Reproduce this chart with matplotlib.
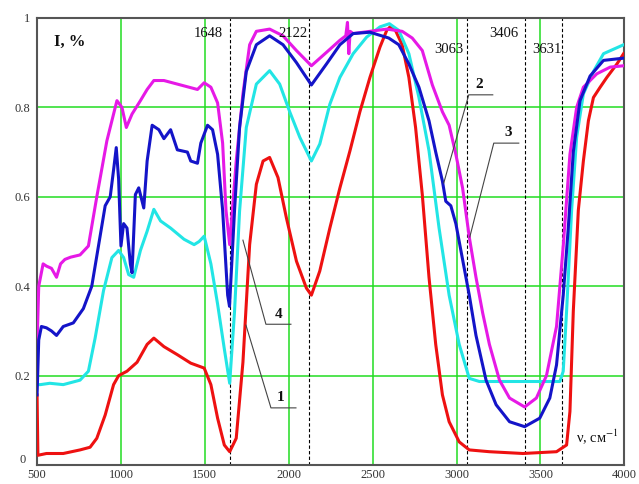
import matplotlib
matplotlib.use("Agg")
import matplotlib.pyplot as plt
from matplotlib.transforms import ScaledTranslation

plt.rcParams['mathtext.fontset'] = 'stix'

# Curve 1 (red)
red_x = [500, 505, 556, 656, 756, 816, 856, 906, 956, 986, 1036, 1096, 1156, 1196, 1256, 1336, 1416, 1496,
         1536, 1576, 1616, 1648, 1687, 1727, 1767, 1807, 1847, 1886, 1936, 1986, 2046, 2105, 2135, 2185,
         2245, 2305, 2365, 2424, 2484, 2544, 2584, 2604, 2636, 2676, 2716, 2756, 2796, 2836, 2876, 2916,
         2956, 3016, 3076, 3196, 3396, 3596, 3656, 3676, 3696, 3726, 3756, 3786, 3816, 3856, 3896, 3956, 3996]
red_y = [0.157, 0.022, 0.026, 0.026, 0.034, 0.04, 0.06, 0.112, 0.18, 0.20, 0.21, 0.23, 0.27, 0.284, 0.265,
         0.247, 0.228, 0.217, 0.18, 0.105, 0.045, 0.03, 0.06, 0.23, 0.493, 0.628, 0.68, 0.688, 0.643, 0.553,
         0.456, 0.396, 0.38, 0.434, 0.53, 0.62, 0.703, 0.79, 0.867, 0.935, 0.972, 0.98, 0.972, 0.94, 0.867,
         0.755, 0.605, 0.42, 0.27, 0.157, 0.097, 0.052, 0.034, 0.03, 0.026, 0.03, 0.045, 0.12, 0.344, 0.57,
         0.68, 0.77, 0.822, 0.845, 0.867, 0.897, 0.92]

# Blue curve
blue_x = [500, 510, 526, 556, 586, 616, 656, 716, 776, 826, 866, 906, 936, 956, 972, 986, 1000, 1016, 1036,
          1056, 1066, 1086, 1106, 1136, 1156, 1186, 1226, 1256, 1296, 1336, 1396, 1416, 1456, 1476, 1516,
          1546, 1576, 1606, 1636, 1647, 1677, 1707, 1747, 1807, 1886, 1966, 2046, 2135, 2225, 2305, 2384,
          2484, 2596, 2656, 2716, 2776, 2836, 2876, 2916, 2936, 2966, 2996, 3036, 3076, 3116, 3176, 3236,
          3316, 3406, 3496, 3556, 3596, 3636, 3666, 3696, 3736, 3796, 3876, 3996]
blue_y = [0.157, 0.28, 0.31, 0.307, 0.30, 0.29, 0.31, 0.318, 0.35, 0.40, 0.49, 0.58, 0.60, 0.66, 0.71, 0.64,
          0.49, 0.54, 0.53, 0.45, 0.43, 0.605, 0.62, 0.575, 0.68, 0.76, 0.75, 0.73, 0.75, 0.705, 0.70, 0.68,
          0.675, 0.72, 0.76, 0.75, 0.695, 0.57, 0.38, 0.355, 0.57, 0.755, 0.88, 0.94, 0.96, 0.94, 0.90, 0.85,
          0.897, 0.94, 0.965, 0.968, 0.955, 0.94, 0.897, 0.845, 0.77, 0.70, 0.635, 0.59, 0.58, 0.54, 0.46,
          0.38, 0.29, 0.19, 0.135, 0.097, 0.086, 0.105, 0.15, 0.224, 0.38, 0.53, 0.70, 0.815, 0.87, 0.905, 0.91]

# Cyan curve
cyan_x = [500, 520, 576, 656, 756, 806, 846, 896, 946, 986, 1016, 1046, 1076, 1116, 1156, 1196, 1236, 1296,
          1376, 1436, 1466, 1496, 1536, 1576, 1616, 1648, 1677, 1707, 1747, 1807, 1886, 1946, 2006, 2066,
          2135, 2185, 2245, 2305, 2384, 2464, 2544, 2600, 2656, 2716, 2776, 2836, 2896, 2956, 3016, 3076,
          3136, 3396, 3616, 3636, 3656, 3686, 3716, 3756, 3816, 3876, 3996]
cyan_y = [0.18, 0.18, 0.183, 0.18, 0.19, 0.21, 0.284, 0.39, 0.464, 0.48, 0.464, 0.426, 0.42, 0.48, 0.523,
          0.572, 0.546, 0.53, 0.505, 0.493, 0.50, 0.512, 0.45, 0.36, 0.26, 0.183, 0.344, 0.568, 0.755, 0.852,
          0.882, 0.852, 0.79, 0.733, 0.68, 0.718, 0.807, 0.867, 0.92, 0.957, 0.98, 0.987, 0.972, 0.92, 0.822,
          0.703, 0.53, 0.38, 0.27, 0.194, 0.187, 0.187, 0.187, 0.21, 0.344, 0.57, 0.733, 0.83, 0.88, 0.92, 0.94]

# Magenta curve
mag_x = [500, 510, 536, 556, 586, 616, 640, 666, 700, 756, 806, 856, 916, 976, 1006, 1032, 1066, 1116, 1156,
         1196, 1256, 1356, 1456, 1496, 1536, 1576, 1606, 1626, 1648, 1687, 1727, 1767, 1807, 1886, 1966,
         2046, 2135, 2225, 2305, 2340, 2350, 2358, 2366, 2384, 2484, 2584, 2676, 2736, 2796, 2856, 2916,
         2956, 2996, 3036, 3076, 3116, 3156, 3196, 3256, 3316, 3406, 3476, 3536, 3596, 3636, 3676, 3716,
         3756, 3836, 3916, 3996]
mag_y = [0.27, 0.40, 0.45, 0.445, 0.44, 0.42, 0.45, 0.46, 0.465, 0.47, 0.49, 0.60, 0.725, 0.815, 0.80, 0.755,
         0.785, 0.815, 0.84, 0.86, 0.86, 0.85, 0.84, 0.855, 0.845, 0.81, 0.72, 0.57, 0.493, 0.68, 0.83, 0.94,
         0.97, 0.975, 0.96, 0.927, 0.893, 0.923, 0.95, 0.96, 0.99, 0.92, 0.97, 0.965, 0.97, 0.975, 0.97,
         0.955, 0.927, 0.85, 0.79, 0.76, 0.695, 0.62, 0.51, 0.42, 0.34, 0.27, 0.19, 0.15, 0.13, 0.15, 0.20,
         0.31, 0.49, 0.695, 0.80, 0.845, 0.875, 0.89, 0.893]

x_ticks = [500, 1000, 1500, 2000, 2500, 3000, 3500, 4000]
y_ticks = [0, 0.2, 0.4, 0.6, 0.8, 1]
y_tick_labels = ["0", "0.2", "0.4", "0.6", "0.8", "1"]
peak_lines = [1648, 2122, 3063, 3406, 3631]
peak_labels = ["1648", "2122", "3063", "3406", "3631"]

fig = plt.figure(figsize=(6.39, 4.84), dpi=100)
ax = fig.add_axes([0.058, 0.039, 0.919, 0.924])
ax.set_xlim(500, 4000)
ax.set_ylim(0, 1)

grid_c = '#22dd22'
for gx in [1000, 1500, 2000, 2500, 3000, 3500]:
    ax.axvline(gx, color=grid_c, lw=1.1, zorder=1)
for gy in [0.2, 0.4, 0.6, 0.8]:
    ax.axhline(gy, color=grid_c, lw=1.1, zorder=1)

for px in peak_lines:
    ax.axvline(px, color='black', lw=0.8, ls=(0, (3, 2)), zorder=2)

ax.plot(red_x, red_y, color='#ee1111', lw=2.2, zorder=3)
ax.plot(cyan_x, cyan_y, color='#22e5e5', lw=2.2, zorder=4)
ax.plot(mag_x, mag_y, color='#e619e6', lw=2.2, zorder=5)
ax.plot(blue_x, blue_y, color='#1414c8', lw=2.2, zorder=6)

ax.set_xticks(x_ticks)
ax.set_yticks(y_ticks)
ax.set_yticklabels(y_tick_labels)
ax.tick_params(length=0, labelsize=9, labelcolor='#333333')
ax.tick_params(axis='y', pad=5)
ax.tick_params(axis='x', pad=3)
for lab in ax.get_xticklabels() + ax.get_yticklabels():
    lab.set_fontfamily('Liberation Serif')
# lift the "0" label slightly, as in the reference
zero_lab = ax.get_yticklabels()[0]
zero_lab.set_transform(zero_lab.get_transform() + ScaledTranslation(-3 / 72, 5 / 72, fig.dpi_scale_trans))
for s in ax.spines.values():
    s.set_color('#555555')
    s.set_linewidth(1.5)

tf = dict(fontfamily='Liberation Serif', fontsize=10.5, color='#111111', zorder=8)
ax.text(1610, 0.966, peak_labels[0], ha='right', va='center', **tf)
ax.text(2025, 0.966, peak_labels[1], ha='center', va='center', **tf)
ax.text(2954, 0.93, peak_labels[2], ha='center', va='center', **tf)
ax.text(3281, 0.966, peak_labels[3], ha='center', va='center', **tf)
ax.text(3537, 0.93, peak_labels[4], ha='center', va='center', **tf)

ax.text(601, 0.946, "I, %", ha='left', va='center', fontfamily='Liberation Serif', fontsize=12,
        fontweight='bold', color='#111111')
ax.text(3715, 0.063, "ν, см$^{-1}$", ha='left', va='center', fontfamily='Liberation Serif',
        fontsize=10.5, color='#111111', zorder=8)

# curve labels with leader lines
leaders = [
    ("1", (1953, 0.152), [1745, 1894, 2043], [0.313, 0.128, 0.128]),
    ("2", (3133, 0.85), [2924, 3073, 3216], [0.631, 0.828, 0.828]),
    ("3", (3305, 0.743), [3079, 3222, 3371], [0.51, 0.72, 0.72]),
    ("4", (1941, 0.336), [1727, 1864, 2013], [0.503, 0.315, 0.315]),
]
for lab, pos, lx, ly in leaders:
    ax.plot(lx, ly, color='#444444', lw=0.8, zorder=7)
    ax.text(pos[0], pos[1], lab, ha='center', va='center', fontfamily='Liberation Serif',
            fontsize=11, fontweight='bold', color='#111111', zorder=8)

fig.savefig("out.png", dpi=100)
